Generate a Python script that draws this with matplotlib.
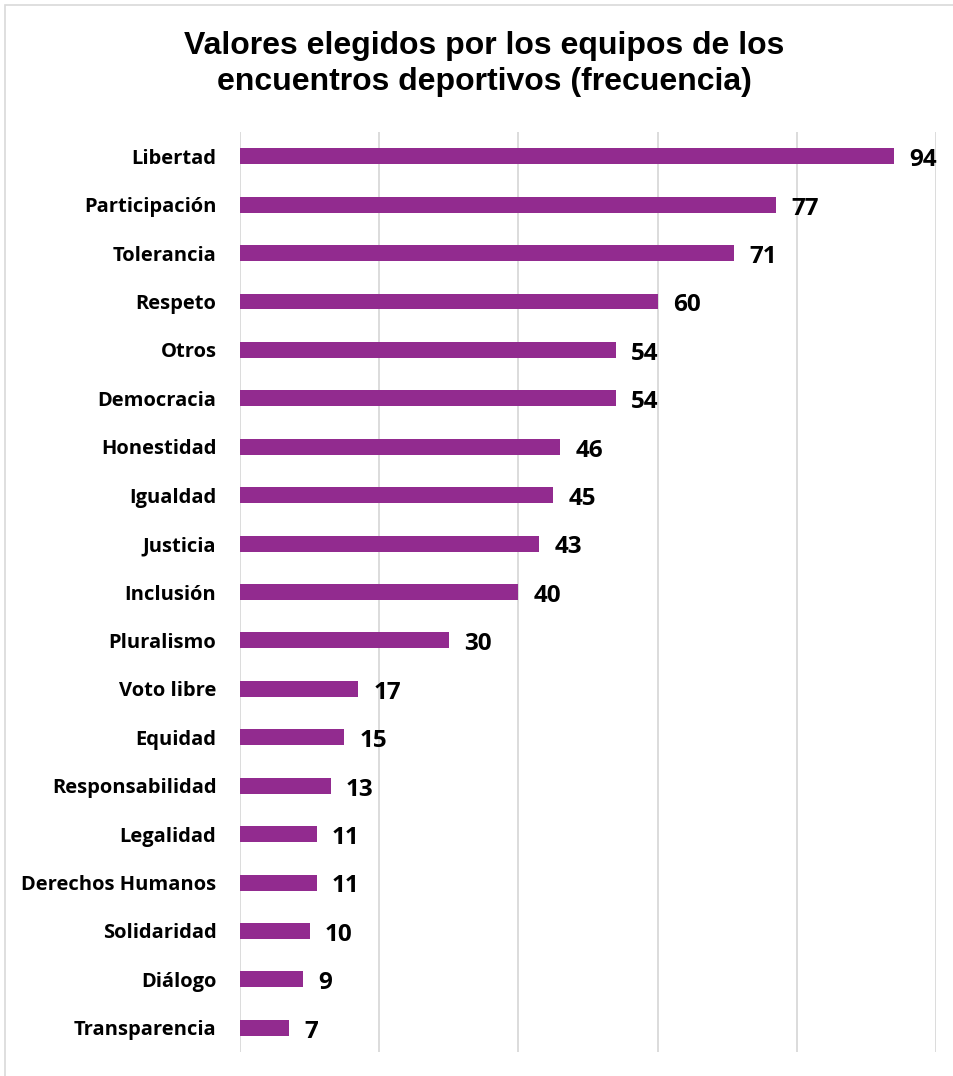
import matplotlib
matplotlib.use("Agg")
from matplotlib import pyplot as plt
from matplotlib.patches import Rectangle

# Datos del grafico
valores = ["Libertad", "Participación", "Tolerancia", "Respeto", "Otros",
           "Democracia", "Honestidad", "Igualdad", "Justicia", "Inclusión",
           "Pluralismo", "Voto libre", "Equidad", "Responsabilidad", "Legalidad",
           "Derechos Humanos", "Solidaridad", "Diálogo", "Transparencia"]
frecuencia = [94, 77, 71, 60, 54, 54, 46, 45, 43, 40, 30, 17, 15, 13, 11, 11, 10, 9, 7]

color_barra = "#922B8F"

fig = plt.figure(figsize=(9.54, 10.76), dpi=100)
ax = fig.add_axes([0.2516, 0.0223, 0.7296, 0.855])

pos = list(range(len(valores)))
ax.barh(pos, frecuencia, height=0.33, color=color_barra, zorder=3)

for y, v in zip(pos, frecuencia):
    ax.text(v + 2.2, y + 0.08, str(v), ha="left", va="center",
            fontsize=17.5, fontweight="bold", family="Open Sans", color="black")

ax.set_xlim(0, 100)
ax.set_ylim(len(valores) - 0.5, -0.5)
ax.set_xticks([0, 20, 40, 60, 80, 100])
ax.set_xticklabels([])
ax.tick_params(axis="x", length=0)
ax.tick_params(axis="y", length=0, pad=17)
ax.set_yticks(pos)
ax.set_yticklabels(valores, fontsize=14.5, fontweight="bold", family="Open Sans")
ax.grid(axis="x", color="#D9D9D9", linewidth=1.3, zorder=0)
for s in ax.spines.values():
    s.set_visible(False)

fig.text(0.508, 0.9405, "Valores elegidos por los equipos de los\nencuentros deportivos (frecuencia)",
         ha="center", va="center", fontsize=23, fontweight="bold",
         family="Liberation Sans", linespacing=1.27)

# marco del area del grafico
fig.patches.append(Rectangle((5 / 954, -0.05), 1.2, 1.05 - 5 / 1076,
                             transform=fig.transFigure, fill=False,
                             edgecolor="#D9D9D9", linewidth=1.2))

fig.savefig("out.png", dpi=100)
